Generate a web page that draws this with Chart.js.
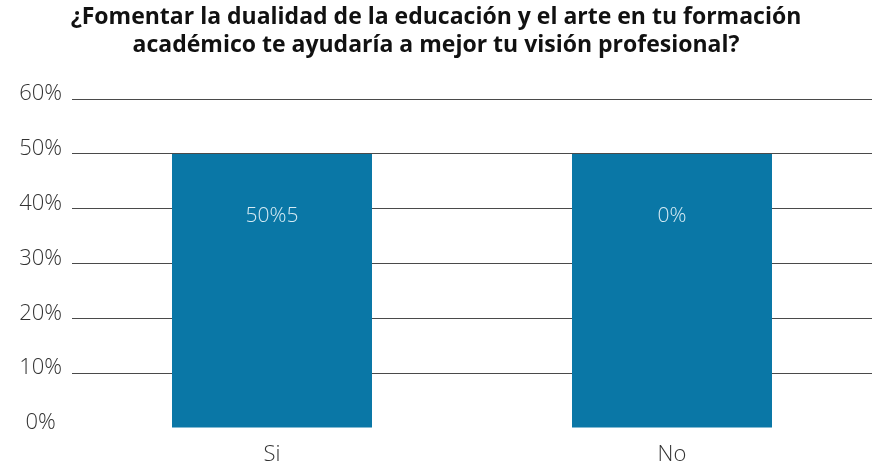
<!DOCTYPE html>
<html><head><meta charset="utf-8">
<script src="https://cdn.jsdelivr.net/npm/chart.js@4"></script>
<style>html,body{margin:0;padding:0;background:#fff;overflow:hidden}#wrap{width:872px;height:468px}</style>
</head><body><div id="wrap"><canvas id="c"></canvas></div>
<script>
const categories = ["Si", "No"];
const values = [50, 50];
const valueLabels = ["50%5", "0%"];
const yTicks = [0, 10, 20, 30, 40, 50, 60];
const titleLines = ["¿Fomentar la dualidad de la educación y el arte en tu formación", "académico te ayudaría a mejor tu visión profesional?"];

const labelPlugin = {
  id: 'vlabels',
  afterDatasetsDraw(chart) {
    const ctx = chart.ctx;
    const meta = chart.getDatasetMeta(0);
    ctx.save();
    ctx.font = '300 21px "Open Sans", Lato, sans-serif';
    ctx.fillStyle = '#d6ebf4';
    ctx.textAlign = 'center';
    ctx.textBaseline = 'middle';
    meta.data.forEach((bar, i) => {
      ctx.fillText(valueLabels[i], bar.x, bar.y + 62);
    });
    ctx.restore();
  }
};

new Chart(document.getElementById('c'), {
  type: 'bar',
  data: { labels: categories, datasets: [{ data: values, backgroundColor: '#0a77a6', barPercentage: 0.5, categoryPercentage: 1 }] },
  options: {
    responsive: true, maintainAspectRatio: false, animation: false,
    layout: { padding: { left: 0, right: 0, top: 4, bottom: 0 } },
    plugins: {
      legend: { display: false }, tooltip: { enabled: false },
      title: { display: true, text: titleLines, color: '#111', font: { family: '"Open Sans", sans-serif', size: 23, weight: 'bold', lineHeight: 1.2 }, padding: { top: 0, bottom: 40 } }
    },
    scales: {
      x: {
        afterFit(scale) { scale.height = 40; },
        grid: { display: false }, border: { display: false },
        ticks: { color: '#333', font: { family: '"Open Sans", Lato, sans-serif', size: 22, weight: '300' }, padding: 6 }
      },
      y: {
        min: 0, max: 60,
        afterBuildTicks(scale) { scale.ticks = yTicks.map(v => ({ value: v })); },
        afterFit(scale) { scale.width = 72; },
        border: { display: false },
        grid: { drawTicks: false, color: ctx => ctx.tick && ctx.tick.value === 0 ? 'rgba(0,0,0,0)' : '#4a4a4a', lineWidth: 1 },
        ticks: { crossAlign: 'center', padding: 10, labelOffset: -5, color: '#333', font: { family: '"Open Sans", Lato, sans-serif', size: 22, weight: '300' }, callback: v => v + '%' }
      }
    }
  },
  plugins: [labelPlugin]
});
</script></body></html>
